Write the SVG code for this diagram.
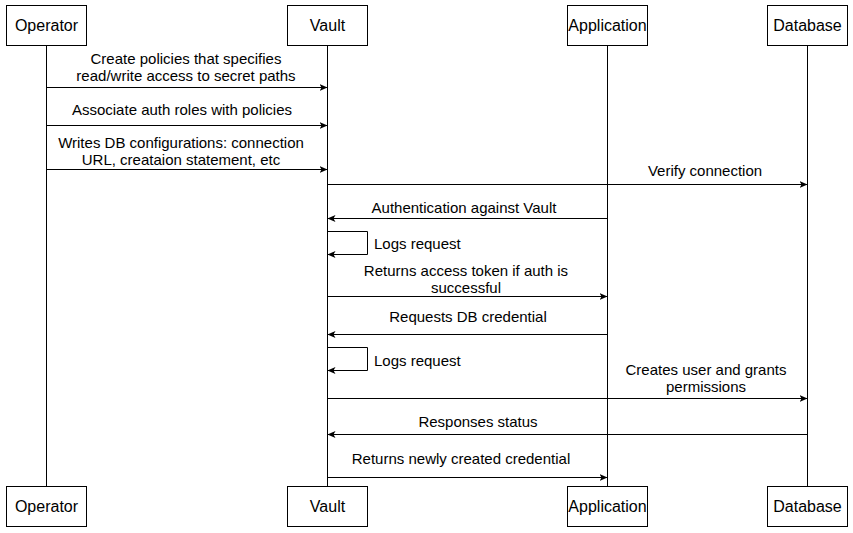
<svg xmlns="http://www.w3.org/2000/svg" width="853" height="533" viewBox="0 0 853 533">
<style>
.box{fill:#fff;stroke:#000;stroke-width:1}
.life{stroke:#000;stroke-width:1;fill:none}
.msg{stroke:#000;stroke-width:1;fill:none;marker-end:url(#ah)}
text{font-family:"Liberation Sans",Arial,sans-serif;font-size:15px;fill:#000;text-anchor:middle;dominant-baseline:central}
.n{font-size:16px}
.l{text-anchor:start}
</style>
<defs>
<marker id="ah" viewBox="0 0 8 8" refX="7.5" refY="4" markerWidth="8" markerHeight="8" markerUnits="userSpaceOnUse" orient="auto">
<path d="M0,0.5 L8,4 L0,7.5 L2,4 Z" fill="#000"/>
</marker>
</defs>
<rect width="853" height="533" fill="#fff"/>
<g id="lifelines">
<line class="life" x1="46.5" y1="45" x2="46.5" y2="486"/>
<line class="life" x1="327.5" y1="45" x2="327.5" y2="486"/>
<line class="life" x1="607.5" y1="45" x2="607.5" y2="486"/>
<line class="life" x1="807.5" y1="45" x2="807.5" y2="486"/>
</g>
<g id="operator-top"><rect class="box" x="6.5" y="5.5" width="80" height="40"/><text class="n" x="46.5" y="25">Operator</text></g>
<g id="vault-top"><rect class="box" x="287.5" y="5.5" width="80" height="40"/><text class="n" x="327.5" y="25">Vault</text></g>
<g id="application-top"><rect class="box" x="567.5" y="5.5" width="80" height="40"/><text class="n" x="607.5" y="25">Application</text></g>
<g id="database-top"><rect class="box" x="767.5" y="5.5" width="80" height="40"/><text class="n" x="807.5" y="25">Database</text></g>
<g id="operator-bottom"><rect class="box" x="6.5" y="486.5" width="80" height="40"/><text class="n" x="46.5" y="506">Operator</text></g>
<g id="vault-bottom"><rect class="box" x="287.5" y="486.5" width="80" height="40"/><text class="n" x="327.5" y="506">Vault</text></g>
<g id="application-bottom"><rect class="box" x="567.5" y="486.5" width="80" height="40"/><text class="n" x="607.5" y="506">Application</text></g>
<g id="database-bottom"><rect class="box" x="767.5" y="486.5" width="80" height="40"/><text class="n" x="807.5" y="506">Database</text></g>
<g id="connectors">
<line class="msg" x1="46.5" y1="87.5" x2="327" y2="87.5"/>
<line class="msg" x1="46.5" y1="125.5" x2="327" y2="125.5"/>
<line class="msg" x1="46.5" y1="169.5" x2="327" y2="169.5"/>
<line class="msg" x1="327.5" y1="184.5" x2="807" y2="184.5"/>
<line class="msg" x1="607.5" y1="218.5" x2="328" y2="218.5"/>
<path class="msg" d="M327.5,231.5 H367.5 V254.5 H328"/>
<line class="msg" x1="327.5" y1="296.5" x2="607" y2="296.5"/>
<line class="msg" x1="607.5" y1="334.5" x2="328" y2="334.5"/>
<path class="msg" d="M327.5,347.5 H367.5 V370.5 H328"/>
<line class="msg" x1="327.5" y1="398.5" x2="807" y2="398.5"/>
<line class="msg" x1="807.5" y1="434.5" x2="328" y2="434.5"/>
<line class="msg" x1="327.5" y1="477.5" x2="607" y2="477.5"/>
</g>
<g id="labels">
<text x="186" y="58">Create policies that specifies</text>
<text x="186" y="75">read/write access to secret paths</text>
<text x="182" y="109">Associate auth roles with policies</text>
<text x="181" y="142">Writes DB configurations: connection</text>
<text x="181" y="159">URL, creataion statement, etc</text>
<text x="705" y="170">Verify connection</text>
<text x="464" y="207">Authentication against Vault</text>
<text class="l" x="374" y="243">Logs request</text>
<text x="466" y="270">Returns access token if auth is</text>
<text x="466" y="287">successful</text>
<text x="468" y="316">Requests DB credential</text>
<text class="l" x="374" y="360">Logs request</text>
<text x="706" y="369">Creates user and grants</text>
<text x="706" y="386">permissions</text>
<text x="478" y="421">Responses status</text>
<text x="461" y="458">Returns newly created credential</text>
</g>
</svg>
